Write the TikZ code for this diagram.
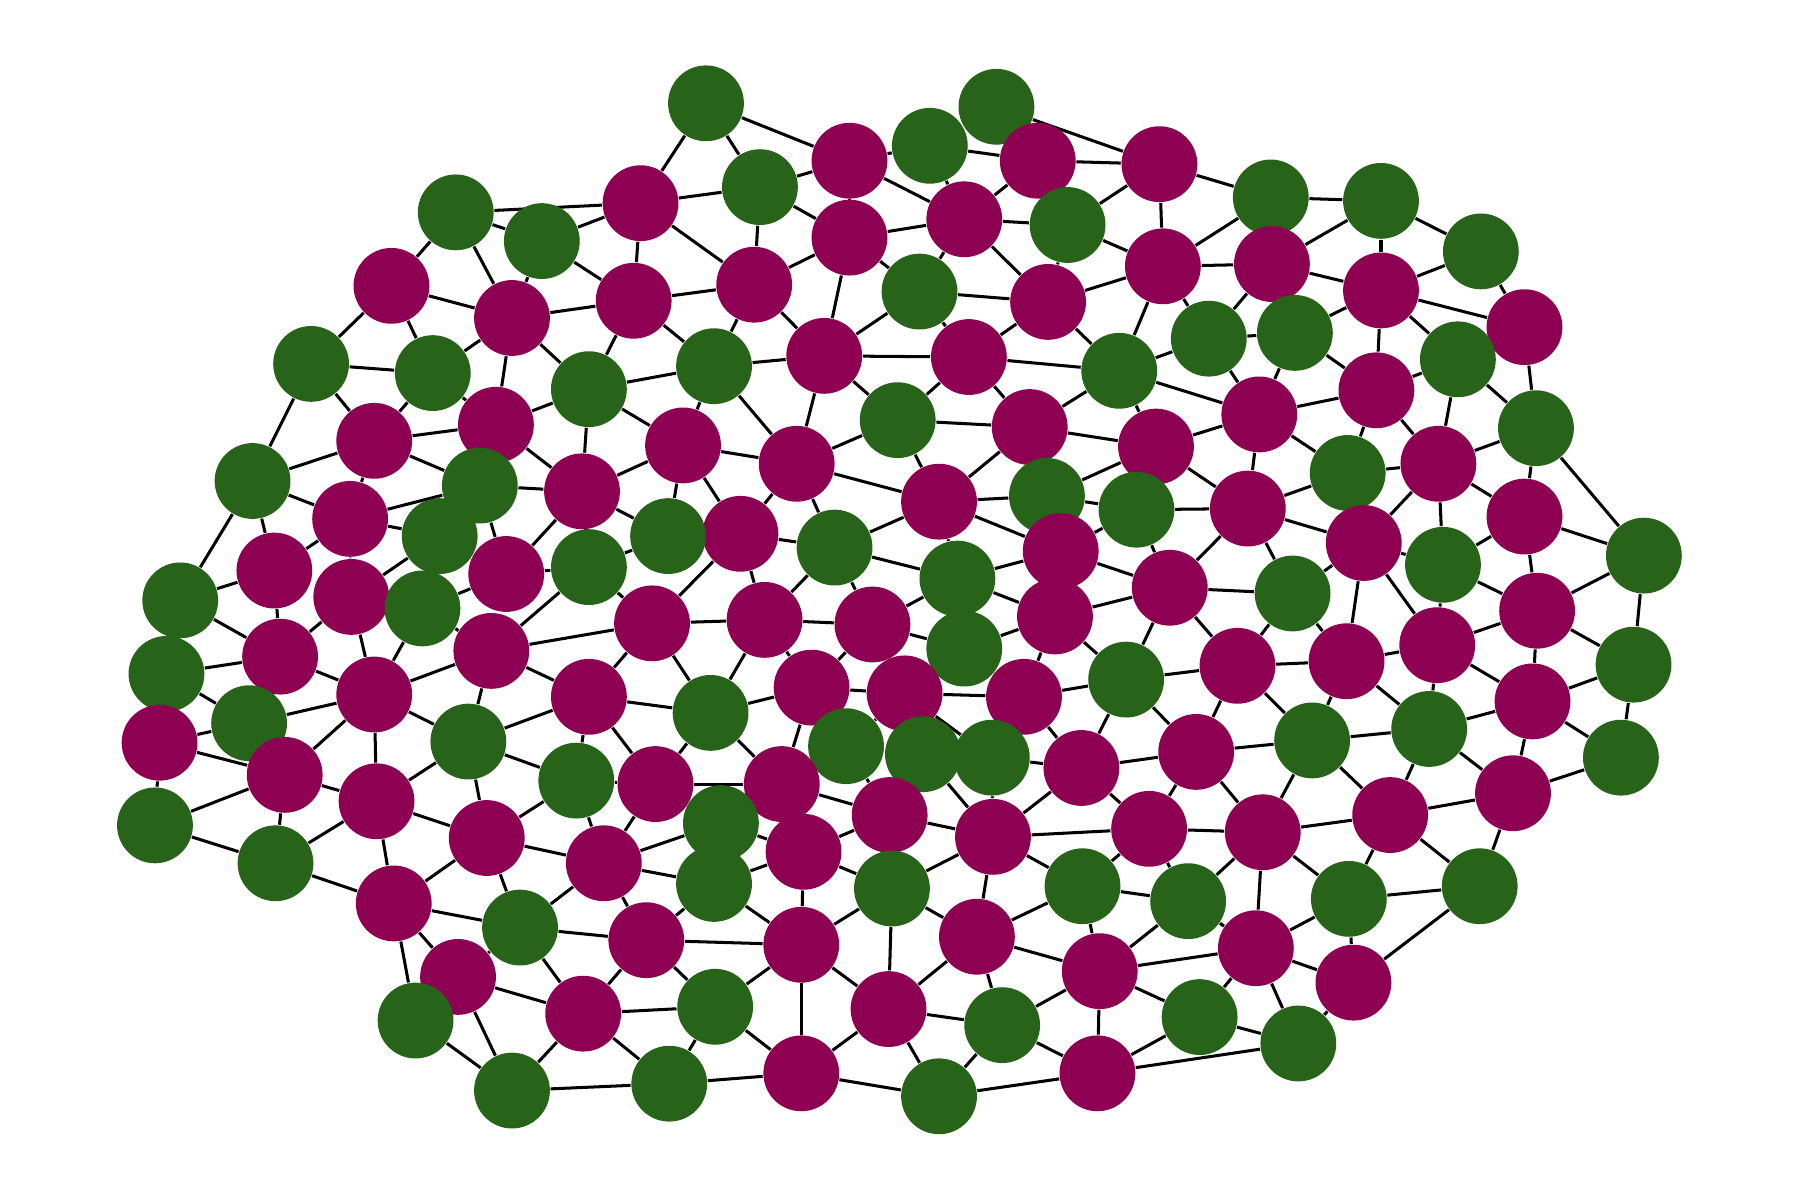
\documentclass[tikz,border=0pt]{standalone}
\usetikzlibrary{backgrounds}
\definecolor{pinkend}{RGB}{142,1,82}
\definecolor{greenend}{RGB}{39,100,25}

\begin{document}
\begin{tikzpicture}[x=0.01cm,y=-0.01cm,
      vert/.style={circle,inner sep=0pt,minimum size=0.66cm},
      pv/.style={vert,fill=pinkend},
      gv/.style={vert,fill=greenend},
      link/.style={line width=0.75pt}]
      \useasboundingbox (0,0) rectangle (1568,1045);
      % top rows
      \node[gv] (v1) at (615,90) {};
      \node[gv] (v2) at (868,93) {};
      \node[pv] (v3) at (740,140) {};
      \node[gv] (v4) at (810,127) {};
      \node[pv] (v5) at (904,140) {};
      \node[pv] (v6) at (1010,143) {};
      \node[gv] (v7) at (662,163) {};
      \node[pv] (v8) at (558,177) {};
      \node[gv] (v9) at (397,185) {};
      \node[gv] (v10) at (472,210) {};
      \node[pv] (v11) at (740,207) {};
      \node[pv] (v12) at (840,191) {};
      \node[gv] (v13) at (930,196) {};
      \node[gv] (v14) at (1107,172) {};
      \node[gv] (v15) at (1203,175) {};
      \node[gv] (v16) at (1290,219) {};
      \node[pv] (v17) at (1013,232) {};
      \node[pv] (v18) at (1108,230) {};
      \node[pv] (v19) at (1203,253) {};
      \node[pv] (v20) at (1328,285) {};
      \node[pv] (v21) at (341,249) {};
      \node[pv] (v22) at (446,277) {};
      \node[pv] (v23) at (552,262) {};
      \node[pv] (v24) at (657,248) {};
      \node[gv] (v25) at (801,254) {};
      \node[pv] (v26) at (913,263) {};
      \node[gv] (v27) at (1053,295) {};
      \node[gv] (v28) at (1128,290) {};
      \node[gv] (v29) at (1270,313) {};
      \node[gv] (v30) at (271,317) {};
      \node[gv] (v31) at (377,325) {};
      \node[gv] (v32) at (513,339) {};
      \node[gv] (v33) at (622,319) {};
      \node[pv] (v34) at (718,310) {};
      \node[pv] (v35) at (844,311) {};
      \node[gv] (v36) at (975,323) {};
      \node[pv] (v37) at (1199,340) {};
      \node[gv] (v38) at (1338,373) {};
      \node[pv] (v39) at (326,384) {};
      \node[pv] (v40) at (432,370) {};
      \node[pv] (v41) at (595,388) {};
      \node[pv] (v42) at (694,404) {};
      \node[gv] (v43) at (782,366) {};
      \node[pv] (v44) at (897,372) {};
      \node[pv] (v45) at (1007,389) {};
      \node[pv] (v46) at (1097,361) {};
      % middle rows
      \node[gv] (v47) at (220,419) {};
      \node[gv] (v48) at (418,423) {};
      \node[pv] (v49) at (507,428) {};
      \node[gv] (v50) at (1174,412) {};
      \node[pv] (v51) at (1253,404) {};
      \node[pv] (v52) at (305,452) {};
      \node[gv] (v53) at (383,467) {};
      \node[pv] (v54) at (645,465) {};
      \node[gv] (v55) at (582,467) {};
      \node[gv] (v56) at (727,477) {};
      \node[pv] (v57) at (818,437) {};
      \node[gv] (v58) at (912,432) {};
      \node[gv] (v59) at (990,444) {};
      \node[pv] (v60) at (1087,443) {};
      \node[pv] (v61) at (1328,450) {};
      \node[gv] (v62) at (1432,484) {};
      \node[pv] (v63) at (1188,473) {};
      \node[gv] (v64) at (157,523) {};
      \node[pv] (v65) at (239,497) {};
      \node[pv] (v66) at (441,500) {};
      \node[gv] (v67) at (513,494) {};
      \node[pv] (v68) at (924,480) {};
      \node[gv] (v69) at (834,504) {};
      \node[pv] (v70) at (1019,512) {};
      \node[gv] (v71) at (1126,517) {};
      \node[gv] (v72) at (1257,492) {};
      \node[pv] (v73) at (306,520) {};
      \node[gv] (v74) at (368,530) {};
      \node[pv] (v75) at (568,543) {};
      \node[pv] (v76) at (666,540) {};
      \node[pv] (v77) at (760,544) {};
      \node[pv] (v78) at (919,537) {};
      \node[pv] (v79) at (1339,532) {};
      \node[gv] (v80) at (145,587) {};
      \node[pv] (v81) at (244,572) {};
      \node[pv] (v82) at (428,567) {};
      \node[gv] (v83) at (840,565) {};
      \node[pv] (v84) at (1078,580) {};
      \node[pv] (v85) at (1173,576) {};
      \node[pv] (v86) at (1252,562) {};
      \node[gv] (v87) at (1423,579) {};
      \node[pv] (v88) at (139,647) {};
      \node[gv] (v89) at (217,630) {};
      \node[pv] (v90) at (326,605) {};
      \node[pv] (v91) at (513,607) {};
      \node[pv] (v92) at (707,599) {};
      \node[pv] (v93) at (788,604) {};
      \node[pv] (v94) at (892,607) {};
      \node[gv] (v95) at (981,592) {};
      \node[pv] (v96) at (1335,611) {};
      \node[gv] (v97) at (408,646) {};
      \node[gv] (v98) at (619,621) {};
      \node[gv] (v99) at (737,650) {};
      \node[gv] (v100) at (804,657) {};
      \node[gv] (v101) at (864,660) {};
      \node[pv] (v102) at (942,669) {};
      \node[pv] (v103) at (1042,655) {};
      \node[gv] (v104) at (1143,645) {};
      \node[gv] (v105) at (1245,635) {};
      \node[gv] (v106) at (1412,660) {};
      % lower rows
      \node[gv] (v107) at (135,719) {};
      \node[pv] (v108) at (248,675) {};
      \node[pv] (v109) at (328,698) {};
      \node[gv] (v110) at (502,680) {};
      \node[pv] (v111) at (571,683) {};
      \node[pv] (v112) at (681,683) {};
      \node[pv] (v113) at (775,710) {};
      \node[gv] (v114) at (628,717) {};
      \node[pv] (v115) at (1001,722) {};
      \node[pv] (v116) at (1100,725) {};
      \node[pv] (v117) at (1211,710) {};
      \node[pv] (v118) at (1318,691) {};
      \node[pv] (v119) at (424,730) {};
      \node[pv] (v120) at (526,752) {};
      \node[pv] (v121) at (700,742) {};
      \node[pv] (v122) at (865,729) {};
      \node[gv] (v123) at (240,752) {};
      \node[gv] (v124) at (622,770) {};
      \node[gv] (v125) at (777,774) {};
      \node[gv] (v126) at (943,772) {};
      \node[gv] (v127) at (1035,785) {};
      \node[gv] (v128) at (1175,783) {};
      \node[gv] (v129) at (1289,772) {};
      \node[pv] (v130) at (343,787) {};
      \node[gv] (v131) at (453,808) {};
      \node[pv] (v132) at (563,819) {};
      \node[pv] (v133) at (698,823) {};
      \node[pv] (v134) at (851,816) {};
      \node[pv] (v135) at (958,846) {};
      \node[pv] (v136) at (1094,826) {};
      \node[pv] (v137) at (1179,856) {};
      \node[pv] (v138) at (399,851) {};
      \node[gv] (v139) at (362,889) {};
      \node[pv] (v140) at (508,883) {};
      \node[gv] (v141) at (623,877) {};
      \node[pv] (v142) at (774,879) {};
      \node[gv] (v143) at (873,893) {};
      \node[gv] (v144) at (1045,886) {};
      \node[gv] (v145) at (1131,909) {};
      \node[gv] (v146) at (446,950) {};
      \node[gv] (v147) at (583,944) {};
      \node[pv] (v148) at (698,935) {};
      \node[gv] (v149) at (818,955) {};
      \node[pv] (v150) at (956,935) {};
      % edges behind the nodes
      \begin{pgfonlayer}{background}
      \foreach \a/\b in {1/8,1/7,1/3,2/6,3/4,3/11,3/12,3/7,4/5,4/12,5/6,5/12,
          6/13,6/17,6/14,7/8,7/11,7/24,8/9,8/10,8/23,8/24,9/10,9/21,9/22,
          10/22,10/23,11/12,11/24,11/25,11/34,12/13,12/25,12/26,13/17,13/26,
          14/15,14/17,15/18,15/16,15/19,16/19,16/20,17/26,17/27,17/18,17/36,
          18/19,18/27,19/20,19/28,19/29,19/37,20/38,21/22,21/30,21/31,
          22/23,22/31,22/40,22/32,23/24,23/32,23/33,24/33,24/34,
          25/26,25/34,25/35,26/35,26/36,27/28,27/36,27/46,28/37,28/46,
          29/37,29/38,29/51,30/31,30/47,30/39,31/40,31/39,
          32/40,32/33,32/41,32/49,33/34,33/41,33/42,34/42,34/35,34/43,
          35/43,35/36,35/44,36/44,36/45,36/46,37/46,37/51,37/50,
          38/51,38/62,38/61,39/40,39/47,39/52,39/48,40/49,
          41/49,41/55,41/42,41/54,42/43,42/54,42/56,42/57,43/44,43/57,
          44/45,44/57,45/46,45/58,45/60,46/50,46/60,47/52,47/65,47/64,
          48/49,48/52,48/66,49/66,49/67,49/55,50/51,50/60,51/61,51/72,51/63,
          52/53,52/65,52/73,53/73,54/56,54/75,54/76,55/67,
          56/76,56/77,56/69,56/57,57/58,57/68,57/69,58/59,
          59/60,59/68,59/70,60/63,60/70,60/71,61/62,61/72,61/79,62/79,62/87,
          63/71,63/72,63/85,63/86,64/65,64/81,65/81,66/67,66/74,67/75,67/82,
          68/69,68/70,69/77,69/78,70/78,70/95,70/71,70/84,71/84,71/85,
          72/79,72/86,73/81,73/90,74/90,74/82,75/82,75/91,75/98,75/76,
          76/77,76/98,76/92,77/83,77/92,78/83,78/95,78/94,79/86,79/87,79/96,
          80/81,80/89,81/90,82/90,82/97,82/91,84/85,84/95,84/104,84/103,
          85/86,85/104,85/105,86/96,86/105,87/96,87/106,88/89,88/108,88/107,
          89/90,90/97,90/108,90/109,91/97,91/110,91/111,91/98,
          92/93,92/98,92/112,93/94,93/99,93/101,94/95,94/102,95/102,95/103,
          96/105,96/106,96/118,97/109,97/110,97/119,98/111,98/112,99/113,
          100/122,101/102,101/122,102/103,102/115,102/122,103/104,103/115,103/116,
          104/105,104/116,104/117,105/117,105/118,106/118,107/108,107/123,
          108/109,108/123,109/119,109/123,109/130,110/111,110/119,110/120,
          111/112,111/120,112/113,113/121,113/122,114/120,114/121,
          115/122,115/126,115/127,115/116,116/117,116/127,116/128,116/136,
          117/118,117/128,117/129,118/129,119/120,119/130,119/131,
          120/124,120/132,120/131,121/124,121/125,121/133,122/125,122/134,122/126,
          123/130,124/133,124/132,125/133,125/134,125/142,126/134,126/127,126/135,
          127/136,127/135,128/136,128/137,128/129,129/137,130/131,130/138,130/139,
          131/132,131/138,131/140,132/140,132/141,132/133,133/141,133/148,133/142,
          134/142,134/135,134/143,135/136,135/143,135/150,135/144,
          136/137,136/144,136/145,137/145,138/140,138/146,139/146,
          140/146,140/147,140/141,141/147,141/148,142/143,142/148,142/149,
          143/149,143/150,144/145,144/150,145/150,146/147,147/148,148/149,149/150}
        \draw[link] (v\a) -- (v\b);
      \end{pgfonlayer}
    \end{tikzpicture}
\end{document}
